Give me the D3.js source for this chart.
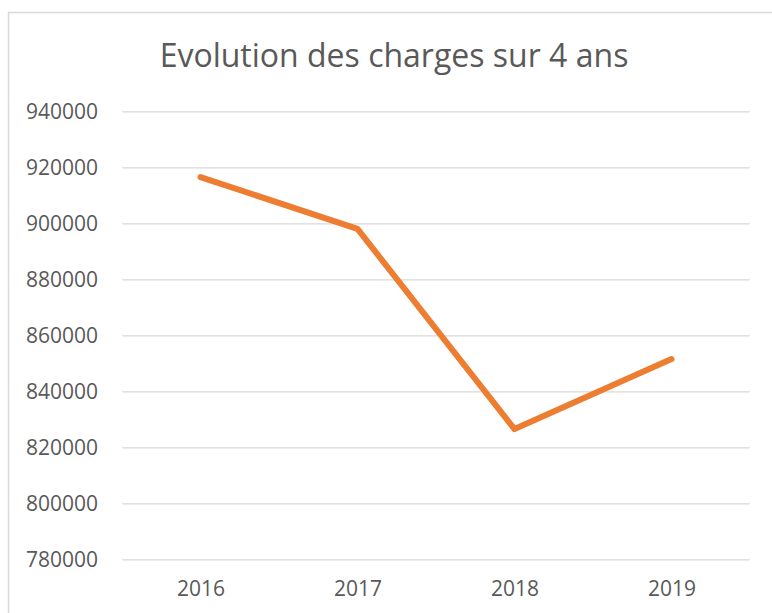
<!DOCTYPE html>
<html>
<head>
<meta charset="utf-8">
<script src="https://cdn.jsdelivr.net/npm/d3@7"></script>
<style>
    body { margin: 0; background: #fff; }
    svg { display: block; font-family: "Open Sans", sans-serif; }
</style>
</head>
<body>
<script>
const years = ["2016", "2017", "2018", "2019"];
const charges = [916500, 898000, 826500, 851500];
const yTicks = [780000, 800000, 820000, 840000, 860000, 880000, 900000, 920000, 940000];
const chartTitle = "Evolution des charges sur 4 ans";

const w = 772;
const h = 613;
const plot = { left: 122, right: 750, top: 111.3, bottom: 559.3 };

const svg = d3.select("body")
    .append("svg")
    .attr("width", w)
    .attr("height", h);

// Chart frame (only top and left edges visible in the crop)
svg.append("path")
    .attr("d", `M8.5,${h} V12.5 H${w}`)
    .attr("fill", "none")
    .attr("stroke", "#d9d9d9")
    .attr("stroke-width", 1.5);

// Title
svg.append("text")
    .attr("x", 394)
    .attr("y", 67)
    .attr("text-anchor", "middle")
    .attr("fill", "#595959")
    .style("font-size", "32px")
    .text(chartTitle);

// Scales
const xScale = d3.scalePoint()
    .domain(years)
    .range([plot.left, plot.right])
    .padding(0.5);

const yScale = d3.scaleLinear()
    .domain([780000, 940000])
    .range([plot.bottom, plot.top]);

// Gridlines + y labels
const yAxis = d3.axisLeft(yScale)
    .tickValues(yTicks)
    .tickSize(-(plot.right - plot.left))
    .tickPadding(24)
    .tickFormat(d3.format("d"));

const yG = svg.append("g")
    .attr("transform", `translate(${plot.left}, 0)`)
    .call(yAxis);
yG.select(".domain").remove();
yG.selectAll(".tick line")
    .attr("stroke", "#d9d9d9")
    .attr("stroke-width", 1.3);
yG.selectAll(".tick text")
    .attr("fill", "#595959")
    .style("font-size", "21px")
    .style("font-family", "'Open Sans', sans-serif");

// X labels
const xAxis = d3.axisBottom(xScale).tickSize(0).tickPadding(22);
const xG = svg.append("g")
    .attr("transform", `translate(0, ${plot.bottom})`)
    .call(xAxis);
xG.select(".domain").remove();
xG.selectAll(".tick text")
    .attr("fill", "#595959")
    .style("font-size", "21px")
    .style("font-family", "'Open Sans', sans-serif");

// Line
const line = d3.line()
    .x((d, i) => xScale(years[i]))
    .y(d => yScale(d));

svg.append("path")
    .datum(charges)
    .attr("d", line)
    .attr("fill", "none")
    .attr("stroke", "#ed7d31")
    .attr("stroke-width", 6)
    .attr("stroke-linecap", "round")
    .attr("stroke-linejoin", "round");
</script>
</body>
</html>
